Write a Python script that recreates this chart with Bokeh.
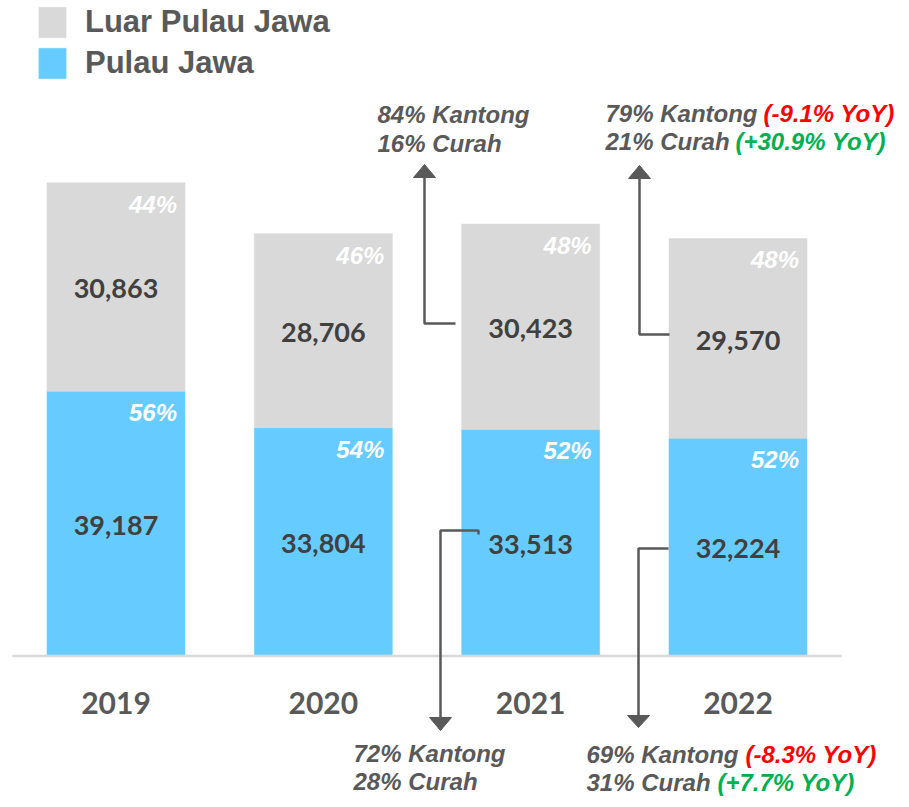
from bokeh.plotting import figure
from bokeh.models import Range1d, Legend, LegendItem, ColumnDataSource
from bokeh.embed import file_html
from bokeh.resources import INLINE
from bokeh.core.properties import value

# ---------------- data ----------------
years = ["2019", "2020", "2021", "2022"]
jawa = [39187, 33804, 33513, 32224]          # Pulau Jawa
luar = [30863, 28706, 30423, 29570]          # Luar Pulau Jawa
jawa_pct = ["56%", "54%", "52%", "52%"]
luar_pct = ["44%", "46%", "48%", "48%"]

note_2021_top = ["84% Kantong", "16% Curah"]
note_2022_top = ["79% Kantong", "21% Curah"]
note_2022_top_yoy = ["(-9.1% YoY)", "(+30.9% YoY)"]
note_2021_bot = ["72% Kantong", "28% Curah"]
note_2022_bot = ["69% Kantong", "31% Curah"]
note_2022_bot_yoy = ["(-8.3% YoY)", "(+7.7% YoY)"]
yoy_colors = ["#FF0000", "#00B050"]

# ---------------- layout constants ----------------
W, H = 909, 807
BAR_W = 0.6656
PXX = 1 / 207.33      # index units per pixel
PXY = 148.04          # value units per pixel
BLUE = "#66CCFF"
GRAY = "#D9D9D9"
DARK = "#404040"
MID = "#595959"
BL = 0.36             # baseline correction (fraction of font size)


def X(px):  # page pixel -> x data
    return (px - 115.5) * PXX


def Y(py):  # page pixel -> y data
    return (655.5 - py) * PXY


p = figure(width=W, height=H, output_backend="svg", toolbar_location=None,
           x_range=Range1d(X(0), X(W)), y_range=Range1d(Y(H), Y(0)),
           x_axis_location=None, y_axis_location=None, min_border=0,
           outline_line_color=None, background_fill_color="white")
p.xgrid.visible = False
p.ygrid.visible = False

xs = list(range(len(years)))
src = ColumnDataSource(dict(x=xs, jawa=jawa, luar=luar))
r_jawa, r_luar = p.vbar_stack(["jawa", "luar"], x="x", width=BAR_W, source=src,
                              fill_color=[BLUE, GRAY], line_color=[BLUE, GRAY], line_width=0.5)

# baseline
p.segment(x0=[-0.5], x1=[len(years) - 0.5], y0=[0], y1=[0], line_color=GRAY, line_width=2.5)

# value labels (27px Lato bold), centred in each segment
vshift = (11.5 - BL * 27) * PXY
tot = [a + b for a, b in zip(jawa, luar)]
p.text(x=xs, y=[v / 2 - vshift for v in jawa], text=[f"{v:,}" for v in jawa],
       text_font=value("Lato"), text_font_style="bold", text_font_size="27px",
       text_color=DARK, text_align="center", text_baseline="alphabetic")
p.text(x=xs, y=[j + l / 2 - vshift for j, l in zip(jawa, luar)], text=[f"{v:,}" for v in luar],
       text_font=value("Lato"), text_font_style="bold", text_font_size="27px",
       text_color=DARK, text_align="center", text_baseline="alphabetic")

# percent labels
px_right = [x + BAR_W / 2 - 8 * PXX for x in xs]
pshift = (30 - BL * 24) * PXY
p.text(x=px_right, y=[v - pshift for v in jawa], text=jawa_pct,
       text_font=value("Liberation Sans"), text_font_style="bold italic", text_font_size="24px",
       text_color="white", text_align="right", text_baseline="alphabetic")
p.text(x=px_right, y=[v - pshift for v in tot], text=luar_pct,
       text_font=value("Liberation Sans"), text_font_style="bold italic", text_font_size="24px",
       text_color="white", text_align="right", text_baseline="alphabetic")

# year labels
p.text(x=xs, y=[Y(713 - BL * 30)] * len(xs), text=years,
       text_font=value("Lato"), text_font_style="bold", text_font_size="30px",
       text_color=MID, text_align="center", text_baseline="alphabetic")

# callout arrows (layout in page pixels)
arrows = [
    dict(path=[(455, 323), (424, 323), (424, 177)], tip=(424, 164), base=177),
    dict(path=[(669, 334), (639, 334), (639, 178)], tip=(639, 165), base=178),
    dict(path=[(478, 534), (478, 530), (440, 530), (440, 717)], tip=(440, 730), base=717),
    dict(path=[(668, 548), (638, 548), (638, 715)], tip=(638, 727), base=715),
]
p.multi_line(xs=[[X(a) for a, b in d["path"]] for d in arrows],
             ys=[[Y(b) for a, b in d["path"]] for d in arrows],
             line_color=MID, line_width=2.5)
p.patches(xs=[[X(d["tip"][0]), X(d["tip"][0] - 11), X(d["tip"][0] + 11)] for d in arrows],
          ys=[[Y(d["tip"][1]), Y(d["base"]), Y(d["base"])] for d in arrows],
          fill_color=MID, line_color=MID, line_width=1)

note_kw = dict(text_font=value("Liberation Sans"), text_font_style="bold italic",
               text_font_size="24px", text_align="left", text_baseline="alphabetic")
c = BL * 24


def NY(py):
    return Y(py - c)


p.text(x=[X(377)] * 2, y=[NY(123), NY(152)], text=note_2021_top, text_color=MID, **note_kw)
p.text(x=[X(605)] * 2, y=[NY(122), NY(150)], text=note_2022_top, text_color=MID, **note_kw)
p.text(x=[X(763), X(735)], y=[NY(122), NY(150)], text=note_2022_top_yoy, text_color=yoy_colors, **note_kw)
p.text(x=[X(353)] * 2, y=[NY(762), NY(790)], text=note_2021_bot, text_color=MID, **note_kw)
p.text(x=[X(586)] * 2, y=[NY(763), NY(791)], text=note_2022_bot, text_color=MID, **note_kw)
p.text(x=[X(745), X(717)], y=[NY(763), NY(791)], text=note_2022_bot_yoy, text_color=yoy_colors, **note_kw)

legend = Legend(items=[LegendItem(label="Luar Pulau Jawa", renderers=[r_luar]),
                       LegendItem(label="Pulau Jawa", renderers=[r_jawa])],
                location=(35, 725), orientation="vertical",
                glyph_width=34, glyph_height=38, spacing=3, padding=0, margin=0,
                label_standoff=16, label_text_font="Liberation Sans",
                label_text_font_style="bold", label_text_font_size="31px",
                label_text_color=MID, border_line_color=None, background_fill_alpha=0)
p.add_layout(legend)

open("out.html", "w").write(file_html(p, INLINE))
